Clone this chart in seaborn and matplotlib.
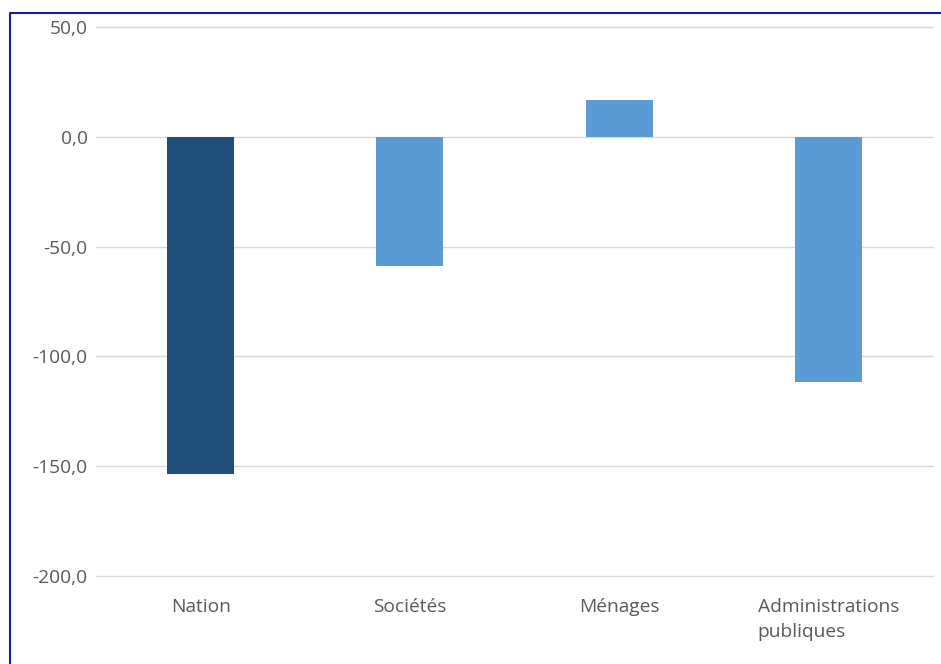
import matplotlib
matplotlib.use("Agg")
import matplotlib.pyplot as plt
import seaborn as sns
import pandas as pd
from matplotlib.lines import Line2D
from matplotlib.ticker import FuncFormatter

categories = ["Nation", "Sociétés", "Ménages", "Administrations\npubliques"]
values = [-153.5, -58.7, 16.8, -111.5]
bar_colors = ["#1F4E79", "#5B9BD5", "#5B9BD5", "#5B9BD5"]
y_ticks = [50, 0, -50, -100, -150, -200]

sns.set_theme(style="white")
plt.rcParams["font.family"] = ["Open Sans", "DejaVu Sans"]

df = pd.DataFrame({"cat": categories, "val": values})

fig = plt.figure(figsize=(9.41, 6.64), dpi=100)
ax = fig.add_axes([96 / 941, 1 - 576 / 664, (933 - 96) / 941, (576 - 27) / 664])

sns.barplot(data=df, x="cat", y="val", hue="cat", palette=dict(zip(categories, bar_colors)),
            width=0.32, legend=False, ax=ax, linewidth=0, saturation=1)

ax.set_ylim(-200, 50)
ax.set_xlim(-0.5, 3.5)
ax.set_yticks(y_ticks)
ax.yaxis.set_major_formatter(FuncFormatter(lambda v, p: f"{v:.1f}".replace(".", ",")))
ax.grid(axis="y", color="#d9d9d9", linewidth=1)
for gl in ax.get_ygridlines():
    gl.set_clip_on(False)
ax.set_axisbelow(True)
for s in ax.spines.values():
    s.set_visible(False)
ax.set_xlabel("")
ax.set_ylabel("")
ax.tick_params(axis="y", length=0, pad=6, labelsize=13.8, labelcolor="#595959")
ax.tick_params(axis="x", length=0, pad=16, labelsize=13.8, labelcolor="#595959")
for lbl in ax.get_xticklabels():
    lbl.set_multialignment("left")
    lbl.set_verticalalignment("top")
    lbl.set_linespacing(1.45)

# outer frame
fig.add_artist(Line2D([10 / 941, 10 / 941, 1.0], [0.0, 1 - 13 / 664, 1 - 13 / 664],
                      transform=fig.transFigure, color="#1a1a9e", linewidth=1.5))

fig.savefig("out.png", dpi=100)
